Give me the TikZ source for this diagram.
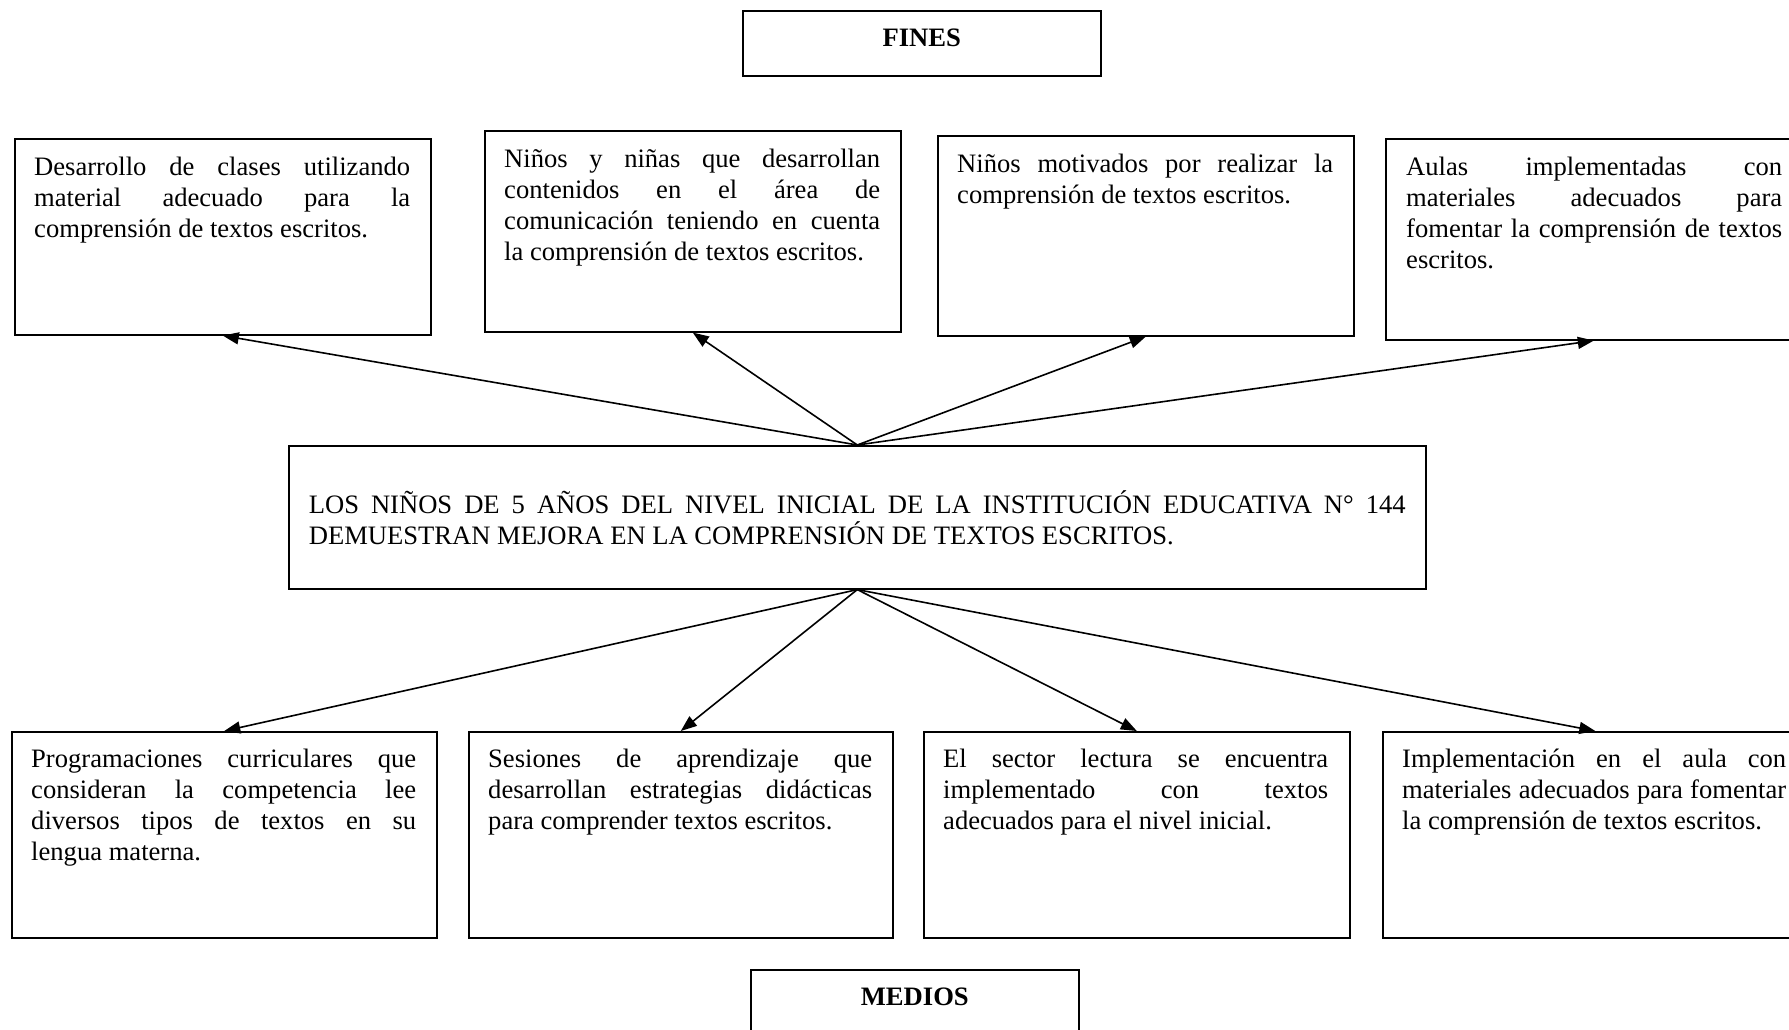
\documentclass[tikz,border=0pt]{standalone}
\usepackage{fontspec}
\setmainfont{Liberation Serif}
\usetikzlibrary{arrows.meta}
\newcommand{\bodyfont}{\fontsize{26.6}{31}\selectfont}
\hyphenpenalty=10000
\exhyphenpenalty=10000
\tikzset{
  box/.style={draw, line width=1.6pt, inner sep=0pt, anchor=north west},
  txt/.style={inner sep=0pt, anchor=north west, align=justify, font=\bodyfont},
  ttl/.style={inner sep=0pt, anchor=base, font=\bodyfont\bfseries},
  arr/.style={line width=1.6pt, -{Triangle[length=16pt,width=12pt]}},
}
\begin{document}
\begin{tikzpicture}[x=1pt,y=-1pt]
\useasboundingbox (0,0) rectangle (1789,1030);
% titles
\node[box, minimum width=358pt, minimum height=65pt] (fines) at (742,10) {};
\node[ttl] (finest) at ([shift={(0,37)}]fines.north) {FINES};
\node[box, minimum width=328pt, minimum height=90pt] (medios) at (750,969) {};
\node[ttl] (mediost) at ([shift={(0,36)}]medios.north) {MEDIOS};
% top boxes (fines)
\node[box, minimum width=416pt, minimum height=196pt] (f1) at (14,138) {};
\node[txt, text width=376pt] (f1t) at ([shift={(20,16)}]f1.north west) {\strut Desarrollo de clases utilizando\linebreak material adecuado para la\linebreak comprensión de textos escritos.};
\node[box, minimum width=416pt, minimum height=201pt] (f2) at (484,130) {};
\node[txt, text width=376pt] (f2t) at ([shift={(20,16)}]f2.north west) {\strut Niños y niñas que desarrollan\linebreak contenidos en el área de\linebreak comunicación teniendo en cuenta\linebreak la comprensión de textos escritos.};
\node[box, minimum width=416pt, minimum height=200pt] (f3) at (937,135) {};
\node[txt, text width=376pt] (f3t) at ([shift={(20,16)}]f3.north west) {\strut Niños motivados por realizar la\linebreak comprensión de textos escritos.};
\node[box, minimum width=416pt, minimum height=201pt] (f4) at (1385,138) {};
\node[txt, text width=376pt] (f4t) at ([shift={(21,16)}]f4.north west) {\strut Aulas implementadas con\linebreak materiales adecuados para\linebreak fomentar la comprensión de textos\linebreak escritos.};
% central box
\node[box, minimum width=1137pt, minimum height=143pt] (c) at (288,445) {};
\node[txt, text width=1097pt, anchor=center] (ct) at (c.center) {LOS NIÑOS DE 5 AÑOS DEL NIVEL INICIAL DE LA INSTITUCIÓN EDUCATIVA N° 144\linebreak DEMUESTRAN MEJORA EN LA COMPRENSIÓN DE TEXTOS ESCRITOS.};
% bottom boxes (medios)
\node[box, minimum width=425pt, minimum height=206pt] (m1) at (11,731) {};
\node[txt, text width=385pt] (m1t) at ([shift={(20,15)}]m1.north west) {\strut Programaciones curriculares que\linebreak consideran la competencia lee\linebreak diversos tipos de textos en su\linebreak lengua materna.};
\node[box, minimum width=424pt, minimum height=206pt] (m2) at (468,731) {};
\node[txt, text width=384pt] (m2t) at ([shift={(20,15)}]m2.north west) {\strut Sesiones de aprendizaje que\linebreak desarrollan estrategias didácticas\linebreak para comprender textos escritos.};
\node[box, minimum width=426pt, minimum height=206pt] (m3) at (923,731) {};
\node[txt, text width=385pt] (m3t) at ([shift={(20,15)}]m3.north west) {\strut El sector lectura se encuentra\linebreak implementado con textos\linebreak adecuados para el nivel inicial.};
\node[box, minimum width=425pt, minimum height=206pt] (m4) at (1382,731) {};
\node[txt, text width=384pt] (m4t) at ([shift={(20,15)}]m4.north west) {\strut Implementación en el aula con\linebreak materiales adecuados para fomentar\linebreak la comprensión de textos escritos.};
% arrows
\draw[arr] (c.north) -- (f1.south);
\draw[arr] (c.north) -- (f2.south);
\draw[arr] (c.north) -- (f3.south);
\draw[arr] (c.north) -- (f4.south);
\draw[arr] (c.south) -- (m1.north);
\draw[arr] (c.south) -- (m2.north);
\draw[arr] (c.south) -- (m3.north);
\draw[arr] (c.south) -- (m4.north);
\end{tikzpicture}
\end{document}
